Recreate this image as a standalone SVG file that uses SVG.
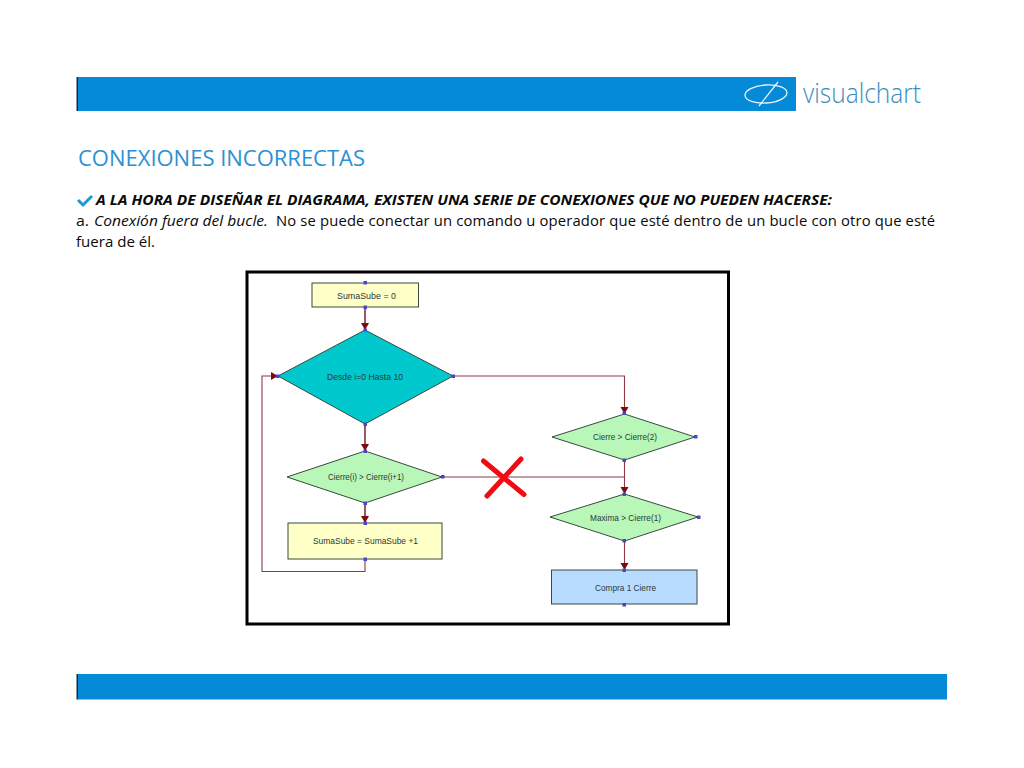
<svg xmlns="http://www.w3.org/2000/svg" width="1024" height="768" viewBox="0 0 1024 768">
<style>
.t{font-family:"Open Sans","Liberation Sans",sans-serif;fill:#0a0a0a;font-size:14.8px}
.n{font-family:"Liberation Sans",Arial,sans-serif;fill:#2a3a3a;font-size:9px;text-anchor:start}
.s{stroke:#3a4a40;stroke-width:1}
.g{fill:#b8f7b8}
.y{fill:#ffffc8}
.c{fill:none;stroke:#8f3a42;stroke-width:1.1}
.k{stroke-width:1.700}
.p{fill:#4a48c0}
</style>
<defs>
<marker id="a" markerWidth="8" markerHeight="9" refX="7" refY="4" orient="auto" markerUnits="userSpaceOnUse"><path d="M0 0L7 4L0 8Z" fill="#7a0a14"/></marker>
</defs>
<rect width="1024" height="768" fill="#fff"/>
<g id="header">
<rect x="78" y="77" width="718" height="34" fill="#058ad8"/>
<rect x="76.500" y="77" width="1.500" height="34" fill="#1c2a38"/>
<ellipse cx="766" cy="94" rx="21" ry="9" transform="rotate(-4 766 94)" fill="none" stroke="#fff" stroke-width="1.300" opacity=".9"/>
<path d="M778 82L759 106" fill="none" stroke="#fff" stroke-width="1.300" opacity=".9"/>
<text x="803" y="103" font-family="'Open Sans','Liberation Sans',sans-serif" font-weight="300" font-size="27" fill="#3a8cbc" textLength="118" lengthAdjust="spacingAndGlyphs">visualchart</text>
</g>
<g id="footer">
<rect x="78" y="674" width="869" height="25.500" fill="#058ad8"/>
<rect x="76.500" y="674" width="1.500" height="25.500" fill="#1c2a38"/>
</g>
<text x="78" y="166" font-family="'Open Sans','Liberation Sans',sans-serif" font-size="22" fill="#2b90d4" textLength="287" lengthAdjust="spacingAndGlyphs">CONEXIONES INCORRECTAS</text>
<path d="M78 200L83 205L92 196" fill="none" stroke="#1b9ad6" stroke-width="3"/>
<text class="t" x="96" y="205" font-weight="700" font-style="italic" textLength="736" lengthAdjust="spacingAndGlyphs">A LA HORA DE DISEÑAR EL DIAGRAMA, EXISTEN UNA SERIE DE CONEXIONES QUE NO PUEDEN HACERSE:</text>
<text class="t" x="76" y="226" textLength="13" lengthAdjust="spacingAndGlyphs">a.</text>
<text class="t" x="94" y="226" font-style="italic" textLength="174" lengthAdjust="spacingAndGlyphs">Conexión fuera del bucle.</text>
<text class="t" x="276" y="226" textLength="659" lengthAdjust="spacing">No se puede conectar un comando u operador que esté dentro de un bucle con otro que esté</text>
<text class="t" x="76" y="247" textLength="79" lengthAdjust="spacingAndGlyphs">fuera de él.</text>
<rect id="frame" x="247" y="272" width="481.500" height="352" fill="#fff" stroke="#000" stroke-width="3"/>
<g id="connectors">
<path class="c k" d="M365 307V330" marker-end="url(#a)"/>
<path class="c k" d="M365 424V451" marker-end="url(#a)"/>
<path class="c k" d="M365 503V523" marker-end="url(#a)"/>
<path class="c" d="M365 559V571.500H262V376H278" marker-end="url(#a)"/>
<path class="c" d="M453 376H624.500V414" marker-end="url(#a)"/>
<path class="c" d="M442 477H624.500"/>
<path class="c" d="M624.500 460V494" marker-end="url(#a)"/>
<path class="c" d="M624.500 541V570" marker-end="url(#a)"/>
</g>
<g id="n1"><rect class="s y" x="312" y="283" width="106.500" height="24"/><text class="n" x="337" y="298.500" textLength="59" lengthAdjust="spacingAndGlyphs">SumaSube  = 0</text><rect class="p" x="363.500" y="281" width="3.500" height="3.500"/><rect class="p" x="363.500" y="305.500" width="3.500" height="3.500"/></g>
<g id="n2"><path class="s" fill="#00c8cc" d="M365 330L453 376L365 424L278 376Z"/><text class="n" x="327" y="380" textLength="76" lengthAdjust="spacingAndGlyphs">Desde i=0 Hasta 10</text><rect class="p" x="363.500" y="328.500" width="3.500" height="3"/><rect class="p" x="363.500" y="422.500" width="3.500" height="3.500"/><rect class="p" x="451.500" y="374.500" width="3.500" height="3.500"/><rect class="p" x="276" y="374.500" width="3.500" height="3.500"/></g>
<g id="n3"><path class="s g" d="M365 451L442 477L365 503L287 477Z"/><text class="n" x="328" y="480" textLength="76" lengthAdjust="spacingAndGlyphs">Cierre(i) &gt; Cierre(i+1)</text><rect class="p" x="363.500" y="449.500" width="3.500" height="3.500"/><rect class="p" x="363.500" y="501.500" width="3.500" height="3.500"/><rect class="p" x="441" y="475" width="3.500" height="3.500"/></g>
<g id="n4"><rect class="s y" x="288" y="523" width="154" height="36"/><text class="n" x="313" y="544" textLength="105" lengthAdjust="spacingAndGlyphs">SumaSube = SumaSube +1</text><rect class="p" x="363.500" y="521.500" width="3.500" height="3.500"/><rect class="p" x="363.500" y="557.500" width="3.500" height="3.500"/></g>
<g id="n5"><path class="s g" d="M624.500 414L695 437L624.500 460L552 437Z"/><text class="n" x="593" y="440" textLength="64" lengthAdjust="spacingAndGlyphs">Cierre &gt; Cierre(2)</text><rect class="p" x="622.500" y="411.500" width="3.500" height="3.500"/><rect class="p" x="622.500" y="458.500" width="3.500" height="3.500"/><rect class="p" x="694" y="435" width="3.500" height="3.500"/></g>
<g id="n6"><path class="s g" d="M624.500 494L698 517L624.500 541L550 517Z"/><text class="n" x="590" y="520.500" textLength="71" lengthAdjust="spacingAndGlyphs">Maxima &gt; Cierre(1)</text><rect class="p" x="622.500" y="492.500" width="3.500" height="3.500"/><rect class="p" x="622.500" y="539" width="3.500" height="3.500"/><rect class="p" x="697" y="515.500" width="3.500" height="3.500"/></g>
<g id="n7"><rect class="s" fill="#b8dcff" x="551.500" y="570" width="145.500" height="34"/><text class="n" x="595" y="590.500" textLength="61" lengthAdjust="spacingAndGlyphs">Compra 1 Cierre</text><rect class="p" x="622.500" y="568.500" width="3.500" height="3.500"/><rect class="p" x="622.500" y="603" width="3.500" height="3.500"/></g>
<path id="cross" d="M483.500 461L524 494.500M521 459L487 496" fill="none" stroke="#f00a14" stroke-width="5" stroke-linecap="round"/>
</svg>
